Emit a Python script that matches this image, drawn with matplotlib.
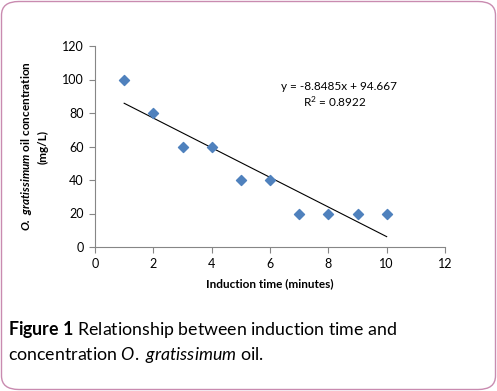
import matplotlib.pyplot as plt
import numpy as np
from matplotlib.patches import FancyBboxPatch

# data
induction_time = [1, 2, 3, 4, 5, 6, 7, 8, 9, 10]
oil_conc = [100, 80, 60, 60, 40, 40, 20, 20, 20, 20]
x_ticks = [0, 2, 4, 6, 8, 10, 12]
y_ticks = [0, 20, 40, 60, 80, 100, 120]

plt.rcParams['font.family'] = 'Lato'
plt.rcParams['mathtext.fontset'] = 'custom'
plt.rcParams['mathtext.rm'] = 'Lato'
plt.rcParams['mathtext.it'] = 'Lato:italic'
plt.rcParams['mathtext.bf'] = 'Lato:bold'
plt.rcParams['mathtext.bfit'] = 'Lato:italic:bold'

W, H = 497, 391
fig = plt.figure(figsize=(W / 100, H / 100), dpi=100)
ax = fig.add_axes([95 / W, 1 - 247 / H, 350 / W, 201 / H])

ax.scatter(induction_time, oil_conc, marker='D', s=26, color='#4F81BD',
           edgecolors='#4F81BD', zorder=3)

# linear trend line
slope, icpt = np.polyfit(induction_time, oil_conc, 1)
xs = np.array([min(induction_time), max(induction_time)])
ax.plot(xs, slope * xs + icpt, color='black', lw=0.8)

ax.set_xlim(0, 12)
ax.set_ylim(0, 120)
ax.set_xticks(x_ticks)
ax.set_yticks(y_ticks)
for s in ['top', 'right']:
    ax.spines[s].set_visible(False)
for s in ['left', 'bottom']:
    ax.spines[s].set_color('#868686')
    ax.spines[s].set_linewidth(0.8)
ax.tick_params(direction='out', length=4, color='#868686', labelsize=9, pad=4)

ax.set_xlabel('Induction time (minutes)', fontsize=8.5, fontweight='bold', labelpad=6)
ax.set_ylabel(r'$\mathbfit{O.}$ $\mathbfit{gratissimum}$ oil concentration' + '\n(mg/L)',
              fontsize=8.5, fontweight='bold', labelpad=10, linespacing=1.3)

fig.text(339 / W, 1 - 86 / H, 'y = -8.8485x + 94.667', fontsize=8.5,
         ha='center', va='center')
fig.text(335 / W, 1 - 102 / H, 'R$^2$ = 0.8922', fontsize=8.5,
         ha='center', va='center')

fig.text(8 / W, 1 - 330 / H,
         r'$\mathbf{Figure}$ $\mathbf{1}$ Relationship between induction time and',
         fontsize=12.8, ha='left', va='center')
fig.text(8 / W, 1 - 355 / H,
         r'concentration $\mathit{O.}$ $\mathit{gratissimum}$ oil.',
         fontsize=12.8, ha='left', va='center')

# rounded page border
border = FancyBboxPatch((1.5 / W, 1.5 / H), (W - 3) / W, (H - 3) / H,
                        boxstyle='round,pad=0,rounding_size=0.035',
                        transform=fig.transFigure, fill=False,
                        edgecolor='#C98BB0', lw=1.0)
fig.patches.append(border)

fig.savefig('out.png', dpi=100)
